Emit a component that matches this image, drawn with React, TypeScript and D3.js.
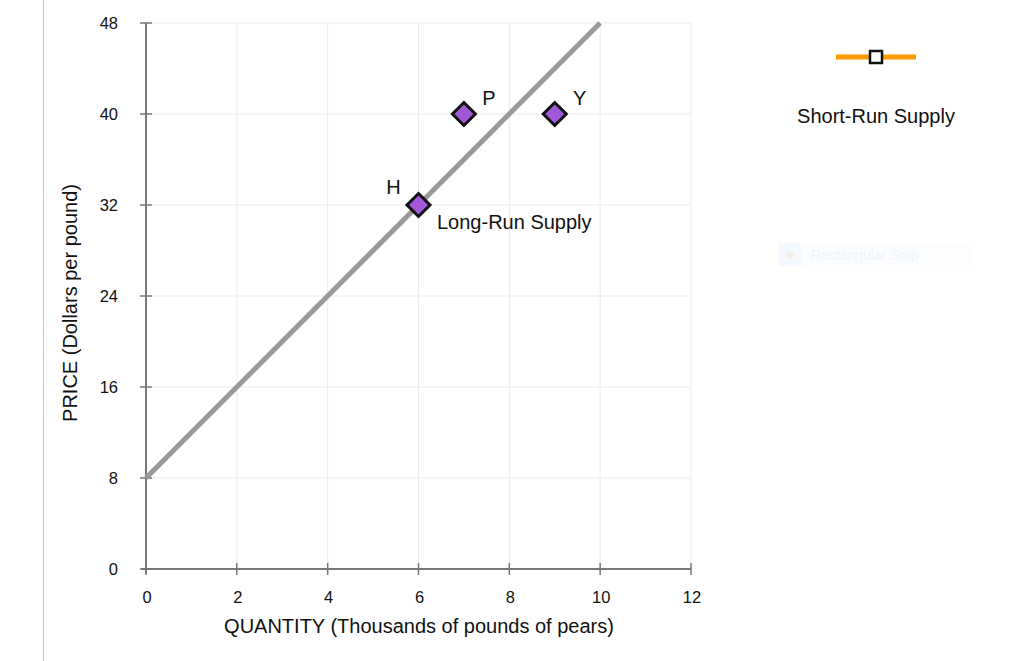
import React from "react";
import * as d3 from "d3";

const xTicks = [0, 2, 4, 6, 8, 10, 12];
const yTicks = [0, 8, 16, 24, 32, 40, 48];
const longRunQ = [0, 10];
const longRunP = [8, 48];
const pointLabels = ["H", "P", "Y"];
const pointQ = [6, 7, 9];
const pointP = [32, 40, 40];

export default function App() {
  const x = d3.scaleLinear().domain([0, 12]).range([146, 691]);
  const y = d3.scaleLinear().domain([0, 48]).range([569, 23]);
  const font = "'Liberation Sans', Arial, sans-serif";
  const line = d3
    .line<number>()
    .x((_, i) => x(longRunQ[i]))
    .y((d) => y(d));
  const diamond = (cx: number, cy: number, r: number) =>
    `M${cx},${cy - r}L${cx + r},${cy}L${cx},${cy + r}L${cx - r},${cy}Z`;
  const labelOffsets: Record<string, [number, number, string]> = {
    H: [-25, -11, "middle"],
    P: [25, -9, "middle"],
    Y: [25, -9, "middle"],
  };
  return (
    <svg
      width={1024}
      height={661}
      style={{ position: "absolute", left: 0, top: 0, background: "#fff" }}
      fontFamily={font}
    >
      <line x1={43.5} x2={43.5} y1={0} y2={661} stroke="#c8c8c8" strokeWidth={1} />
      {/* grid */}
      {xTicks.slice(1).map((t) => (
        <line key={"gx" + t} x1={x(t)} x2={x(t)} y1={y(48)} y2={y(0)} stroke="#ebebeb" strokeWidth={1} />
      ))}
      {yTicks.slice(1).map((t) => (
        <line key={"gy" + t} x1={x(0)} x2={x(12)} y1={y(t)} y2={y(t)} stroke="#ebebeb" strokeWidth={1} />
      ))}
      {/* axes */}
      <line x1={x(0)} x2={x(0)} y1={y(48)} y2={y(0) + 5} stroke="#777" strokeWidth={2} />
      <line x1={x(0) - 5} x2={x(12)} y1={y(0)} y2={y(0)} stroke="#777" strokeWidth={2} />
      {yTicks.map((t) => (
        <g key={"yt" + t}>
          <line x1={x(0) - 6} x2={x(0) + 6} y1={y(t)} y2={y(t)} stroke="#777" strokeWidth={1.5} />
          <text x={118} y={y(t) + 6} fontSize={16.5} textAnchor="end" fill="#111">
            {t}
          </text>
        </g>
      ))}
      {xTicks.map((t) => (
        <g key={"xt" + t}>
          <line x1={x(t)} x2={x(t)} y1={y(0) - 6} y2={y(0) + 6} stroke="#777" strokeWidth={1.5} />
          <text x={x(t) + 1} y={603} fontSize={16.5} textAnchor="middle" fill="#111">
            {t}
          </text>
        </g>
      ))}
      <text x={419} y={633} fontSize={20} textAnchor="middle" fill="#111">
        QUANTITY (Thousands of pounds of pears)
      </text>
      <text
        transform={`translate(77,${303}) rotate(-90)`}
        fontSize={20}
        textAnchor="middle"
        fill="#111"
      >
        PRICE (Dollars per pound)
      </text>
      {/* long-run supply */}
      <path d={line(longRunP) || ""} stroke="#999" strokeWidth={5} fill="none" />
      <text x={437} y={229} fontSize={20} fill="#111">
        Long-Run Supply
      </text>
      {pointLabels.map((lab, i) => {
        const cx = x(pointQ[i]);
        const cy = y(pointP[i]);
        const [dx, dy, anchor] = labelOffsets[lab];
        return (
          <g key={lab}>
            <path d={diamond(cx, cy, 11.5)} fill="#a259d9" stroke="#111" strokeWidth={3} />
            <text x={cx + dx} y={cy + dy} fontSize={20} textAnchor={anchor as any} fill="#111">
              {lab}
            </text>
          </g>
        );
      })}
      {/* legend */}
      <line x1={836} x2={916} y1={57} y2={57} stroke="#ff9900" strokeWidth={5} />
      <rect x={870} y={51} width={12} height={12} fill="#fff" stroke="#111" strokeWidth={2.5} />
      <text x={876} y={123} fontSize={20} textAnchor="middle" fill="#111">
        Short-Run Supply
      </text>
      {/* faint snip overlay */}
      <rect x={779} y={243} width={193} height={23} fill="#fbfdff" />
      <rect x={779} y={243} width={22} height={23} fill="#f4f9ff" />
      <circle cx={790} cy={255} r={4} fill="#f6eee8" />
      <text x={811} y={260} fontSize={14} fill="#f2f4f7">
        Rectangular Snip
      </text>
    </svg>
  );
}
